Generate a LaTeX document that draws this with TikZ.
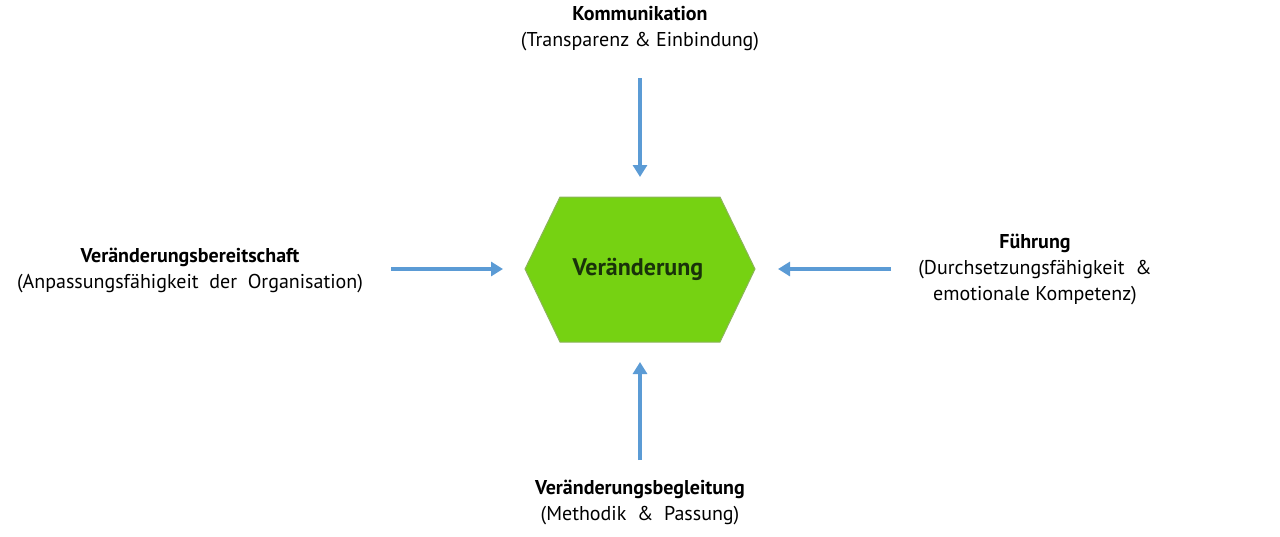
\documentclass[tikz,border=0pt]{standalone}
\usepackage{fontspec}
\setmainfont{PT Sans}
\usetikzlibrary{arrows.meta}
\definecolor{arrowblue}{RGB}{91,155,213}
\definecolor{hexgreen}{RGB}{118,210,18}
\definecolor{hexborder}{RGB}{140,180,90}
\definecolor{hextext}{RGB}{25,50,10}
\definecolor{txt}{RGB}{0,0,0}
\tikzset{
  lbl/.style={align=center, font=\fontsize{20}{26}\selectfont, text=txt, inner sep=0pt},
  arr/.style={draw=arrowblue, line width=4pt, -{Triangle[length=12pt,width=14pt]}}
}
\begin{document}
\begin{tikzpicture}[x=1pt,y=-1pt]
\useasboundingbox (0,0) rectangle (1280,536);
% hexagon
\coordinate (h1) at (525,269);
\coordinate (h2) at (560,197);
\coordinate (h3) at (720,197);
\coordinate (h4) at (755,269);
\coordinate (h5) at (720,342);
\coordinate (h6) at (560,342);
\filldraw[fill=hexgreen, draw=hexborder, line width=1pt] (h1)--(h2)--(h3)--(h4)--(h5)--(h6)--cycle;
\node[font=\fontsize{24}{28}\selectfont\bfseries, text=hextext] (center) at (638,269) {Veränderung};
% labels
\node[lbl] (top) at (640,29) {\textbf{Kommunikation}\\(Transparenz \& Einbindung)};
\node[lbl] (left) at (190,270) {\textbf{Veränderungsbereitschaft}\\(Anpassungsfähigkeit\ \ der\ \ Organisation)};
\node[lbl] (right) at (1035,269) {\textbf{Führung}\\(Durchsetzungsfähigkeit\ \ \&\\emotionale Kompetenz)};
\node[lbl] (bottom) at (640,502) {\textbf{Veränderungsbegleitung}\\(Methodik\ \ \&\ \ Passung)};
% arrows
\coordinate (ta) at (640,78);
\coordinate (tb) at (640,177);
\coordinate (ba) at (640,460);
\coordinate (bb) at (640,362);
\coordinate (la) at (391,269);
\coordinate (lb) at (503,269);
\coordinate (ra) at (891,269);
\coordinate (rb) at (778,269);
\draw[arr] (ta) -- (tb);
\draw[arr] (ba) -- (bb);
\draw[arr] (la) -- (lb);
\draw[arr] (ra) -- (rb);
\end{tikzpicture}
\end{document}
